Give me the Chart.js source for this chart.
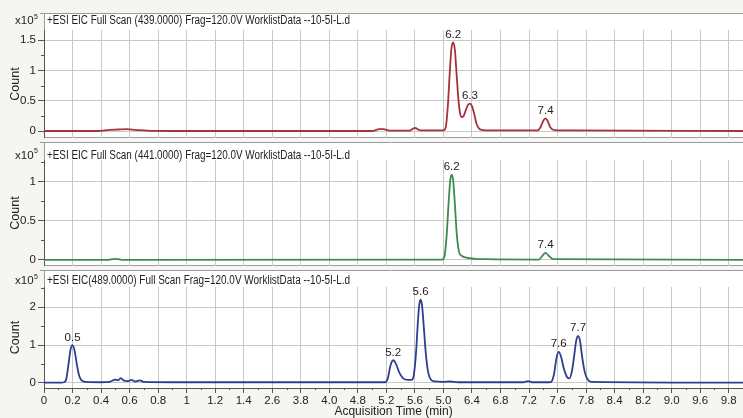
<!DOCTYPE html>
<html>
<head>
<meta charset="utf-8">
<script src="https://cdn.jsdelivr.net/npm/chart.js@4.4.0/dist/chart.umd.min.js"></script>
<style>
  body { margin: 0; width: 743px; height: 418px; overflow: hidden; position: relative; background: #f5f5f2; }
  canvas { position: absolute; left: 0; }
</style>
</head>
<body>
<canvas id="eic439" width="743" height="125" style="top:13px"></canvas>
<canvas id="eic441" width="743" height="124" style="top:142px"></canvas>
<canvas id="eic489" width="743" height="148" style="top:270px"></canvas>
<script>
// x axis positions are in tick slots (one slot per printed label)
const tickLabels = ['0','0.2','0.4','0.6','0.8','1','1.2','1.4','2.6','3.8','4.0','4.8','5.2','5.6','5.0','6.4','6.8','7.2','7.6','7.8','8.4','8.2','9.0','9.6','9.8'];

const titles = [
  '+ESI EIC Full Scan (439.0000) Frag=120.0V WorklistData --10-5I-L.d',
  '+ESI EIC Full Scan (441.0000) Frag=120.0V WorklistData --10-5I-L.d',
  '+ESI EIC(489.0000) Full Scan Frag=120.0V WorklistData --10-5I-L.d'
];

// counts x10^5
const scan439X = [0, 1.9, 2.3, 2.6, 2.9, 3.2, 3.6, 4.5, 11.5, 11.75, 11.9, 12.1, 12.8, 13.0, 13.2, 13.9,
  14.0, 14.08, 14.16, 14.22, 14.28, 14.34, 14.4, 14.46, 14.52, 14.58, 14.64, 14.7, 14.78, 14.86, 14.93, 15.0, 15.08, 15.16, 15.25, 15.4, 15.8,
  17.3, 17.42, 17.5, 17.58, 17.66, 17.75, 17.9, 18.5, 24.5];
const scan439Y = [0, 0, 0.02, 0.025, 0.03, 0.02, 0.005, 0, 0, 0.03, 0.03, 0.005, 0.005, 0.05, 0.01, 0.01,
  0.01, 0.06, 0.45, 0.95, 1.36, 1.46, 1.34, 0.95, 0.55, 0.3, 0.23, 0.24, 0.34, 0.43, 0.45, 0.41, 0.28, 0.12, 0.04, 0.015, 0.01,
  0.01, 0.08, 0.17, 0.21, 0.16, 0.06, 0.015, 0.01, 0];

const scan441X = [0, 2.2, 2.5, 2.8, 13.95, 14.04, 14.12, 14.18, 14.24, 14.29, 14.34, 14.4, 14.47, 14.55, 14.65, 14.8, 15.1, 15.5,
  17.35, 17.46, 17.58, 17.7, 17.85, 24.5];
const scan441Y = [0, 0, 0.015, 0, 0.005, 0.05, 0.35, 0.72, 1.02, 1.09, 1.02, 0.72, 0.32, 0.1, 0.05, 0.03, 0.015, 0.01,
  0.005, 0.05, 0.09, 0.05, 0.01, 0];

const scan489X = [0, 0.6, 0.7, 0.78, 0.86, 0.93, 1.0, 1.07, 1.15, 1.23, 1.32, 1.45, 2.0, 2.3, 2.49, 2.6, 2.69, 2.8, 2.95, 3.07, 3.2, 3.36, 3.5, 4.5,
  11.95, 12.05, 12.14, 12.24, 12.34, 12.45, 12.58, 12.75, 12.88, 12.96, 13.04, 13.1, 13.15, 13.2, 13.25, 13.31, 13.38, 13.46, 13.55, 13.7,
  14.0, 14.23, 14.5, 16.8, 16.97, 17.1, 17.7, 17.78, 17.88, 17.96, 18.04, 18.12, 18.22, 18.33, 18.42, 18.5, 18.58, 18.65, 18.72, 18.79, 18.86, 18.95, 19.05, 19.2, 24.5];
const scan489Y = [0.01, 0.01, 0.02, 0.1, 0.5, 0.88, 1.0, 0.86, 0.5, 0.2, 0.07, 0.03, 0.02, 0.03, 0.09, 0.07, 0.13, 0.06, 0.05, 0.08, 0.04, 0.07, 0.03, 0.02,
  0.02, 0.12, 0.45, 0.6, 0.5, 0.28, 0.13, 0.08, 0.08, 0.2, 0.8, 1.55, 2.05, 2.2, 2.05, 1.5, 0.8, 0.3, 0.1, 0.04,
  0.03, 0.04, 0.02, 0.02, 0.05, 0.02, 0.02, 0.03, 0.25, 0.65, 0.82, 0.7, 0.38, 0.16, 0.12, 0.3, 0.7, 1.1, 1.24, 1.1, 0.7, 0.3, 0.1, 0.03, 0.01];

const peaks439 = ['6.2', '6.3', '7.4'];
const peaks439X = [14.34, 14.93, 17.58];
const peaks439Y = [1.46, 0.45, 0.21];
const peaks441 = ['6.2', '7.4'];
const peaks441X = [14.29, 17.58];
const peaks441Y = [1.09, 0.09];
const peaks489 = ['0.5', '5.2', '5.6', '7.6', '7.7'];
const peaks489X = [1.0, 12.24, 13.2, 18.04, 18.72];
const peaks489Y = [1.0, 0.6, 2.2, 0.82, 1.24];

const yTicks439 = [0, 0.5, 1, 1.5];
const yTicks441 = [0, 0.5, 1];
const yTicks489 = [0, 1, 2];

const FONT = '"Liberation Sans", Arial, sans-serif';

const panelDecor = {
  id: 'panelDecor',
  beforeDraw(chart) {
    const ctx = chart.ctx, a = chart.chartArea, p = chart.options.plugins.panelDecor;
    ctx.save();
    ctx.fillStyle = '#ffffff';
    ctx.fillRect(a.left, 0, chart.width - a.left, a.bottom);
    ctx.strokeStyle = '#9a9a9a';
    ctx.lineWidth = 1;
    ctx.beginPath();
    ctx.moveTo(a.left - 4, 0.5); ctx.lineTo(chart.width, 0.5);
    if (!p.bottomAxis) { ctx.moveTo(a.left, a.bottom - 0.5); ctx.lineTo(chart.width, a.bottom - 0.5); }
    ctx.moveTo(a.left + 0.5, 0); ctx.lineTo(a.left + 0.5, a.top);
    ctx.stroke();
    ctx.restore();
  },
  afterDraw(chart) {
    const ctx = chart.ctx, a = chart.chartArea, p = chart.options.plugins.panelDecor;
    const xs = chart.scales.x, ys = chart.scales.y;
    ctx.save();
    ctx.fillStyle = '#222';
    ctx.textBaseline = 'middle';
    ctx.textAlign = 'left';
    ctx.font = '12px ' + FONT;
    ctx.fillText(p.title, 47, p.titleY, 303);
    ctx.font = '11.5px ' + FONT;
    ctx.fillText('x10', 15, p.titleY);
    const w = ctx.measureText('x10').width;
    ctx.font = '7px ' + FONT;
    ctx.fillText('5', 15 + w + 0.5, p.titleY - 4);

    // minor ticks
    ctx.strokeStyle = '#555';
    ctx.lineWidth = 1;
    ctx.beginPath();
    for (let i = 0; i < p.yTicks.length; i++) {
      const step = p.yTicks[1] - p.yTicks[0];
      const v = p.yTicks[i] + step / 2;
      const y = Math.round(ys.getPixelForValue(v)) + 0.5;
      if (y > a.top && y < a.bottom) { ctx.moveTo(a.left - 3, y); ctx.lineTo(a.left, y); }
    }
    if (p.bottomAxis) {
      for (let i = 0; i < tickLabels.length; i++) {
        const x = Math.round(xs.getPixelForValue(i + 0.5)) + 0.5;
        if (x < a.right) { ctx.moveTo(x, a.bottom); ctx.lineTo(x, a.bottom + 2); }
      }
    }
    ctx.stroke();

    // peak labels
    ctx.font = '11.5px ' + FONT;
    ctx.textAlign = 'center';
    ctx.textBaseline = 'bottom';
    ctx.fillStyle = '#222';
    p.peaks.forEach((t, i) => {
      ctx.fillText(t, xs.getPixelForValue(p.peakX[i]), ys.getPixelForValue(p.peakY[i]) - 2);
    });
    ctx.restore();
  }
};

function makePanel(id, cfg) {
  const points = cfg.xs.map((x, i) => ({ x: x, y: cfg.ys[i] }));
  return new Chart(document.getElementById(id), {
    type: 'line',
    data: {
      datasets: [{
        data: points,
        borderColor: cfg.color,
        borderWidth: 1.8,
        pointRadius: 0,
        cubicInterpolationMode: 'monotone',
        fill: false
      }]
    },
    options: {
      responsive: false,
      animation: false,
      events: [],
      layout: { padding: { top: cfg.padTop, left: 0, right: 0, bottom: 0 } },
      plugins: {
        legend: { display: false },
        tooltip: { enabled: false },
        panelDecor: {
          title: cfg.title, titleY: cfg.titleY, yTicks: cfg.yTicks, bottomAxis: cfg.bottomAxis,
          peaks: cfg.peaks, peakX: cfg.peakX, peakY: cfg.peakY
        }
      },
      scales: {
        x: {
          type: 'linear',
          min: 0,
          max: 24.5,
          afterBuildTicks: s => { s.ticks = tickLabels.map((t, i) => ({ value: i })); },
          afterFit: s => { s.height = cfg.bottomAxis ? 30 : 0; s.paddingLeft = 0; s.paddingRight = 0; },
          grid: { color: '#c8c8c8', lineWidth: 1, drawTicks: cfg.bottomAxis, tickLength: 5, tickColor: '#555' },
          border: { display: cfg.bottomAxis, color: '#555' },
          ticks: {
            display: cfg.bottomAxis, autoSkip: false, maxRotation: 0, padding: 1,
            color: '#222', font: { family: FONT, size: 11.5 },
            callback: v => tickLabels[Math.round(v)]
          },
          title: {
            display: cfg.bottomAxis, text: 'Acquisition Time (min)', color: '#222',
            font: { family: FONT, size: 12 }, padding: { top: 0, bottom: -1 }
          }
        },
        y: {
          type: 'linear',
          min: cfg.yMin,
          max: cfg.yMax,
          afterBuildTicks: s => { s.ticks = cfg.yTicks.map(v => ({ value: v })); },
          afterFit: s => { s.width = 44; s.paddingTop = 0; s.paddingBottom = 0; },
          grid: { color: '#c8c8c8', lineWidth: 1, tickLength: 6, tickColor: '#555' },
          border: { color: '#555' },
          ticks: { padding: 2, color: '#222', font: { family: FONT, size: 11.5 }, callback: v => String(v) },
          title: { display: true, text: 'Count', color: '#222', font: { family: FONT, size: 12.5 }, padding: { top: 8, bottom: 0 } }
        }
      }
    },
    plugins: [panelDecor]
  });
}

makePanel('eic439', {
  title: titles[0], titleY: 8, padTop: 17, bottomAxis: false,
  xs: scan439X, ys: scan439Y, color: '#a5323c',
  yTicks: yTicks439, yMin: -0.115, yMax: 1.665,
  peaks: peaks439, peakX: peaks439X, peakY: peaks439Y
});
makePanel('eic441', {
  title: titles[1], titleY: 13.5, padTop: 18, bottomAxis: false,
  xs: scan441X, ys: scan441Y, color: '#3d8b4e',
  yTicks: yTicks441, yMin: -0.077, yMax: 1.277,
  peaks: peaks441, peakX: peaks441X, peakY: peaks441Y
});
makePanel('eic489', {
  title: titles[2], titleY: 11, padTop: 17, bottomAxis: true,
  xs: scan489X, ys: scan489Y, color: '#2e3f8c',
  yTicks: yTicks489, yMin: -0.132, yMax: 2.533,
  peaks: peaks489, peakX: peaks489X, peakY: peaks489Y
});
</script>
</body>
</html>
